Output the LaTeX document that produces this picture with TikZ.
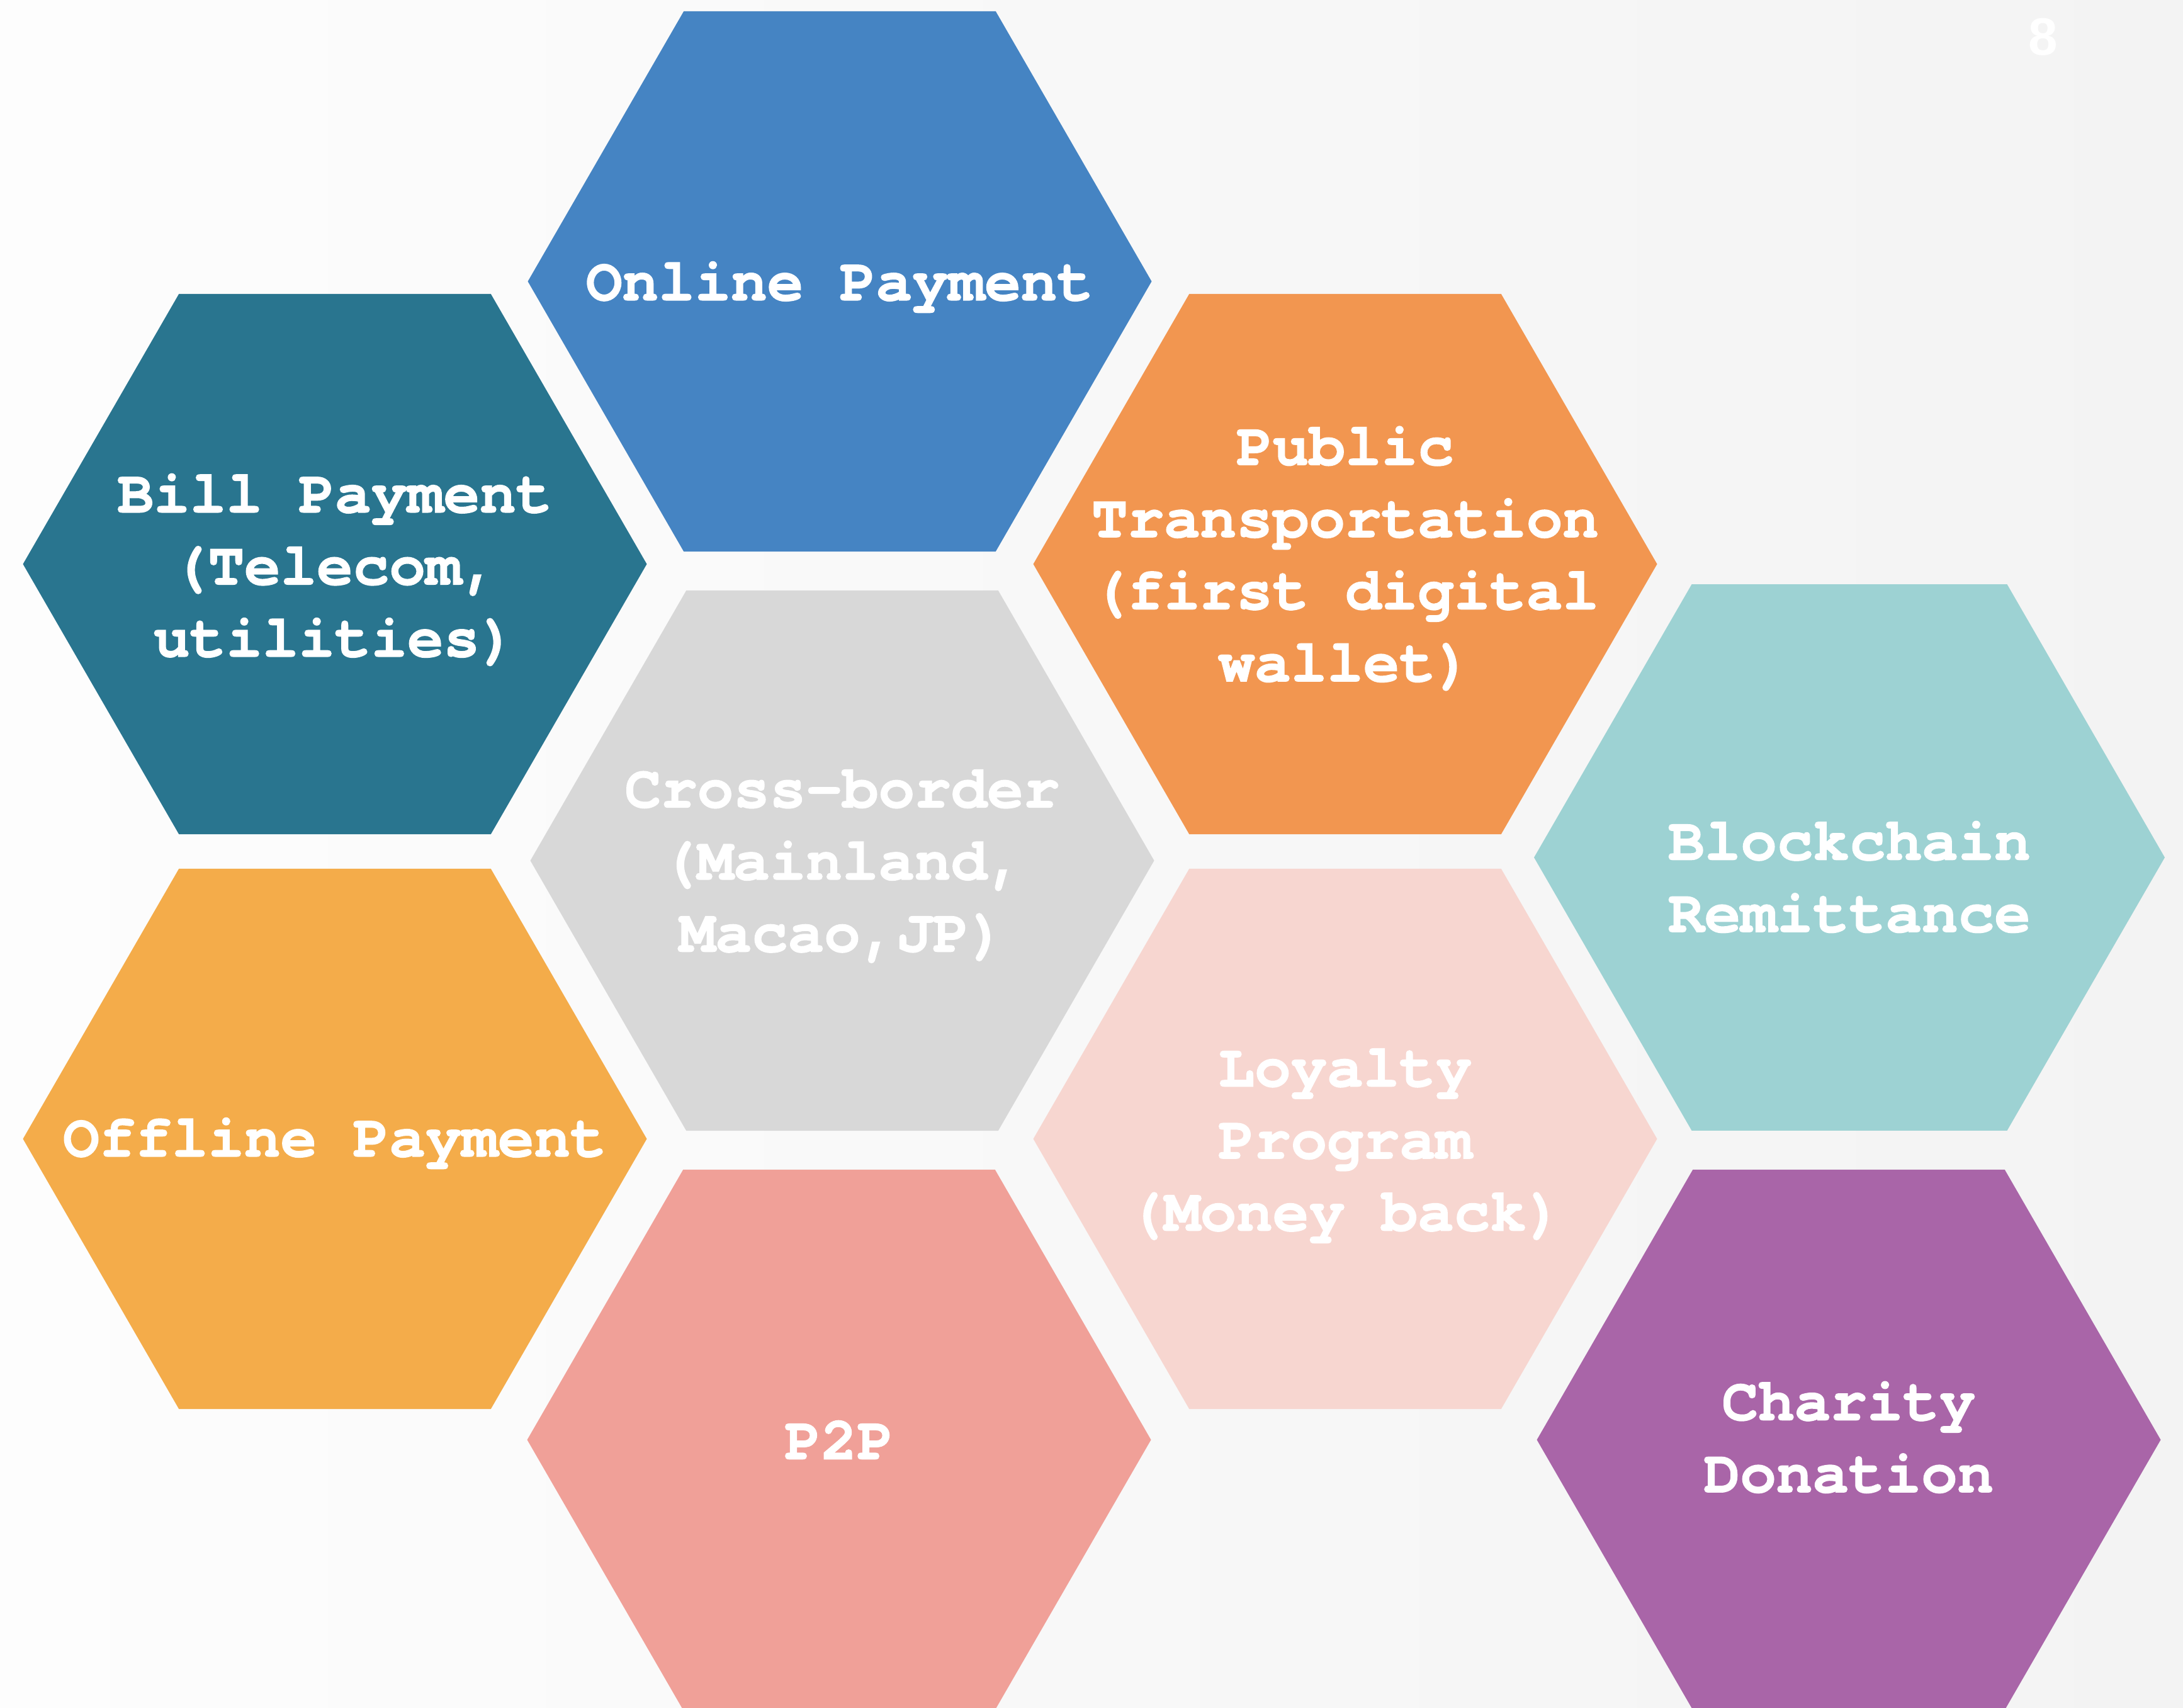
\documentclass[tikz,border=0pt]{standalone}
\usepackage{fontspec}
\newfontfamily\hexfont{TeX Gyre Cursor}[Ligatures=NoCommon, BoldFeatures={FakeBold=1.5}]
\newfontfamily\pagefont{Liberation Sans}
\usetikzlibrary{shapes.geometric}

\definecolor{bgleft}{RGB}{253,253,253}
\definecolor{bgright}{RGB}{243,243,243}
\definecolor{onlineblue}{RGB}{69,132,195}
\definecolor{billteal}{RGB}{41,117,143}
\definecolor{publicorange}{RGB}{242,150,80}
\definecolor{crossgray}{RGB}{216,216,216}
\definecolor{chainaqua}{RGB}{157,210,211}
\definecolor{offlineyellow}{RGB}{244,172,74}
\definecolor{loyaltypink}{RGB}{247,214,208}
\definecolor{ptwosalmon}{RGB}{240,160,152}
\definecolor{charitypurple}{RGB}{169,101,168}

\tikzset{
  hexcell/.style={regular polygon, regular polygon sides=6, minimum size=9.91cm,
    inner sep=0pt, outer sep=0pt},
  hexlabel/.style={text=white, align=center,
    font=\hexfont\bfseries\fontsize{27.3}{32.6}\selectfont}
}

\begin{document}
\begin{tikzpicture}
\useasboundingbox (0, 0) rectangle (34.68, 27.12);
\shade[left color=bgleft, right color=bgright] (0, 0) rectangle (34.68, 27.12);

\path

(13.34, 22.65) node[hexcell, fill=onlineblue](online){}
(5.32, 18.16) node[hexcell, fill=billteal](bill){}
(21.37, 18.16) node[hexcell, fill=publicorange](public){}
(13.38, 13.45) node[hexcell, fill=crossgray](cross){}
(29.38, 13.50) node[hexcell, fill=chainaqua, minimum size=10.02cm](chain){}
(5.32, 9.03) node[hexcell, fill=offlineyellow](offline){}
(21.37, 9.03) node[hexcell, fill=loyaltypink](loyalty){}
(13.33, 4.25) node[hexcell, fill=ptwosalmon](ptwo){}
(29.37, 4.25) node[hexcell, fill=charitypurple](charity){};

% labels
\node[hexlabel] (online-txt) at ([yshift=-0.09cm]online.center) {Online Payment};
\node[hexlabel] (bill-txt) at ([yshift=-0.09cm]bill.center) {Bill Payment\\(Telecom,\\utilities)};
\node[hexlabel] (public-txt) at ([yshift=0.09cm]public.center) {Public\\Transportation\\(first digital\\wallet)};
\node[hexlabel] (cross-txt) at ([yshift=-0.09cm]cross.center) {Cross-border\\(Mainland,\\Macao,JP)};
\node[hexlabel] (chain-txt) at ([yshift=-0.31cm]chain.center) {Blockchain\\Remittance};
\node[hexlabel] (offline-txt) at ([yshift=-0.07cm]offline.center) {Offline Payment};
\node[hexlabel] (loyalty-txt) at ([yshift=-0.11cm]loyalty.center) {Loyalty\\Program\\(Money back)};
\node[hexlabel] (ptwo-txt) at (ptwo) {P2P};
\node[hexlabel] (charity-txt) at ([yshift=0.04cm]charity.center) {Charity\\Donation};

\node[text=white, font=\pagefont\bfseries\fontsize{23.8}{28}\selectfont] (pagenum) at (32.46, 26.53) {8};

\end{tikzpicture}
\end{document}
